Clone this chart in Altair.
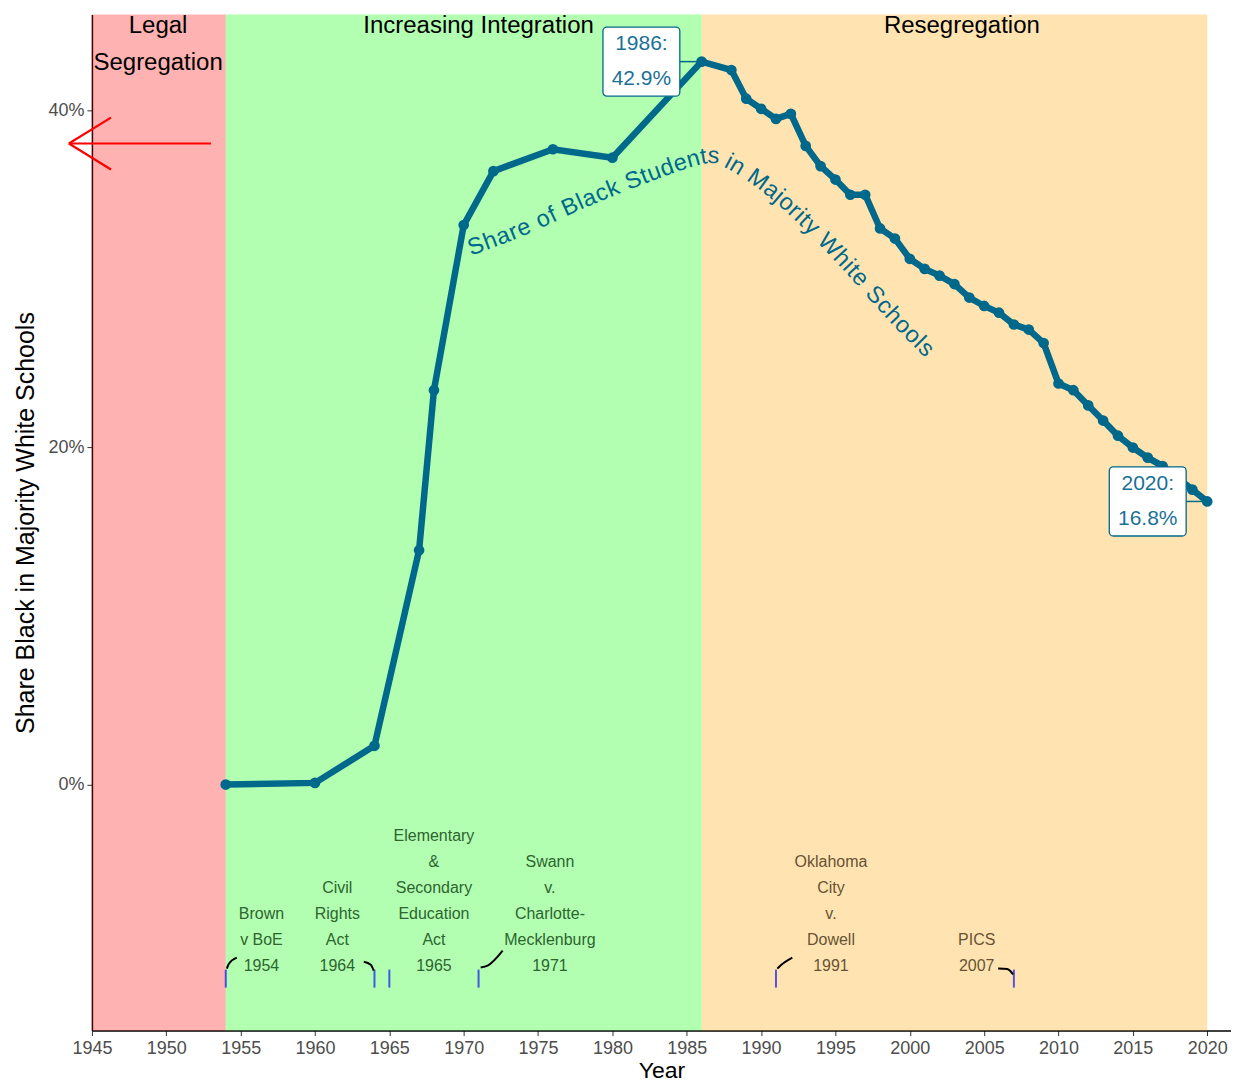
import math
import altair as alt
import pandas as pd

# ---------------- data ----------------
years = [1954, 1960, 1964, 1967, 1968, 1970, 1972, 1976, 1980, 1986, 1988, 1989, 1990,
         1991, 1992, 1993, 1994, 1995, 1996, 1997, 1998, 1999, 2000, 2001, 2002, 2003,
         2004, 2005, 2006, 2007, 2008, 2009, 2010, 2011, 2012, 2013, 2014, 2015, 2016,
         2017, 2018, 2019, 2020]
shares = [0.0, 0.1, 2.3, 13.9, 23.4, 33.2, 36.4, 37.7, 37.2, 42.9, 42.4, 40.7, 40.1,
          39.5, 39.8, 37.9, 36.7, 35.9, 35.0, 35.0, 33.0, 32.4, 31.2, 30.6, 30.2, 29.7,
          28.9, 28.4, 28.0, 27.3, 27.0, 26.2, 23.8, 23.4, 22.5, 21.6, 20.7, 20.0, 19.4,
          18.9, 18.2, 17.5, 16.8]

region_names = ["Legal\nSegregation", "Increasing Integration", "Resegregation"]
region_start = [1945, 1954, 1986]
region_end = [1954, 1986, 2020]
region_colors = ["#FF0000", "#00FF00", "#FFA500"]
region_label_x = [1949.45, 1971.0, 2003.5]

event_years = [1954, 1964, 1965, 1971, 1991, 2007]
event_labels = ["Brown\nv BoE\n1954", "Civil\nRights\nAct\n1964",
                "Elementary\n&\nSecondary\nEducation\nAct\n1965",
                "Swann\nv.\nCharlotte-\nMecklenburg\n1971",
                "Oklahoma\nCity\nv.\nDowell\n1991", "PICS\n2007"]
event_label_x = [1956.4, 1961.5, 1968.0, 1975.8, 1994.7, 2004.5]
event_label_color = ["#2E642E", "#2E642E", "#2E642E", "#2E642E", "#675334", "#675334"]

# connector curves (event label -> event tick), in data units
conn_id = [0, 0, 0, 1, 1, 1, 2, 2, 2, 3, 3, 3, 4, 4, 4]
conn_x = [1954.07, 1954.21, 1954.74, 1963.28, 1963.75, 1963.95, 1971.14, 1971.61, 1972.62,
          1991.09, 1991.29, 1992.10, 2005.94, 2006.55, 2006.95]
conn_y = [-10.92, -10.63, -10.27, -10.51, -10.69, -11.04, -10.86, -10.75, -9.86,
          -10.92, -10.75, -10.27, -10.92, -10.95, -11.27]

callout_years = [1986, 2020]
callout_values = [42.9, 16.8]
callout_box_x = [1981.95, 2016.0]

series_label = "Share of Black Students in Majority White Schools"
# text path (centre line of the curved series label), data units
path_x = [1970.33, 1973.96, 1978.19, 1983.50, 1986.46, 1987.73, 1990.96, 1995.06, 1998.89, 2001.37]
path_y = [31.77, 32.95, 34.73, 36.57, 37.40, 37.10, 35.21, 31.65, 27.79, 25.60]

# ---------------- layout constants ----------------
W, H = 1140, 1017
X0, X1 = 1945, 2021.6
Y0, Y1 = -14.6, 45.7
TEAL = "#00688B"
FONT = "Liberation Sans"
PX_PER_UNIT = H / (Y1 - Y0)

xscale = alt.Scale(domain=[X0, X1], nice=False, zero=False)
yscale = alt.Scale(domain=[Y0, Y1], nice=False, zero=False)
xaxis = alt.Axis(title="Year", values=list(range(1945, 2021, 5)), format="d",
                 labelFontSize=18, labelColor="#4D4D4D", tickColor="#333333", tickSize=5,
                 domainColor="black", domainWidth=1.5, grid=False, titleFontSize=23,
                 titleFontWeight="normal", titleColor="black", labelPadding=4, titlePadding=2,
                 labelFont=FONT, titleFont=FONT, labelFlush=False)
yaxis = alt.Axis(title="Share Black in Majority White Schools", values=[0, 20, 40],
                 labelExpr="datum.value + '%'", labelFontSize=18, labelColor="#4D4D4D",
                 tickColor="#333333", tickSize=5, domainColor="black", domainWidth=1.5,
                 grid=False, titleFontSize=25, titleFontWeight="normal", titleColor="black",
                 labelPadding=3, titlePadding=9, labelFont=FONT, titleFont=FONT)


def X(f):
    return alt.X(f, type="quantitative", scale=xscale, axis=xaxis)


def Y(f):
    return alt.Y(f, type="quantitative", scale=yscale, axis=yaxis)


# ---------------- curved label placement ----------------
def to_px(x, y):
    return ((x - X0) / (X1 - X0) * W, (Y1 - y) / (Y1 - Y0) * H)


def to_data(px, py):
    return (X0 + px / W * (X1 - X0), Y1 - py / H * (Y1 - Y0))


pts = [to_px(a, b) for a, b in zip(path_x, path_y)]
for _ in range(3):
    new = [pts[0]]
    for (ax, ay), (bx, by) in zip(pts[:-1], pts[1:]):
        new.append((0.75 * ax + 0.25 * bx, 0.75 * ay + 0.25 * by))
        new.append((0.25 * ax + 0.75 * bx, 0.25 * ay + 0.75 * by))
    new.append(pts[-1])
    pts = new
cum = [0.0]
for (ax, ay), (bx, by) in zip(pts[:-1], pts[1:]):
    cum.append(cum[-1] + math.hypot(bx - ax, by - ay))
L = cum[-1]


def at(s):
    s = max(0.0, min(L, s))
    for i in range(1, len(cum)):
        if cum[i] >= s:
            t = (s - cum[i - 1]) / max(cum[i] - cum[i - 1], 1e-9)
            ax, ay = pts[i - 1]
            bx, by = pts[i]
            return ax + t * (bx - ax), ay + t * (by - ay)
    return pts[-1]


adv = {"S": 667, "h": 556, "a": 556, "r": 333, "e": 556, " ": 278, "o": 556, "f": 278,
       "B": 667, "l": 222, "c": 500, "k": 500, "t": 278, "u": 556, "d": 556, "n": 556,
       "s": 500, "i": 222, "M": 833, "j": 222, "y": 500, "W": 944}
FS = 23.5
widths = [adv.get(ch, 556) / 1000 * FS for ch in series_label]
extra = max(0.0, (L - sum(widths)) / (len(series_label) - 1))
rows = []
s = 0.0
for ch, w in zip(series_label, widths):
    c = s + w / 2
    px, py = at(c)
    p1 = at(c - 4)
    p2 = at(c + 4)
    ang = math.degrees(math.atan2(p2[1] - p1[1], p2[0] - p1[0])) % 360
    dx, dy = to_data(px, py)
    rows.append({"ch": ch, "x": dx, "y": dy, "ang": ang})
    s += w + extra
chars_df = pd.DataFrame(rows)

# ---------------- layers ----------------
reg_df = pd.DataFrame({"name": region_names, "start": region_start, "end": region_end,
                       "color": region_colors, "lx": region_label_x})
bg = alt.Chart(reg_df).mark_rect(opacity=0.3).encode(
    x=X("start"), x2="end", color=alt.Color("color:N", scale=None))
reg_txt = alt.Chart(reg_df).mark_text(fontSize=24, font=FONT, color="black", baseline="top",
                                      align="center", lineBreak="\n", lineHeight=37).encode(
    x=X("lx"), y=alt.datum(45.75, type="quantitative", scale=yscale, axis=yaxis), text="name:N")

arrow_df = pd.DataFrame({"x": [1953.0, 1943.45, 1943.45], "x2": [1943.45, 1946.28, 1946.28],
                         "y": [38.04, 38.04, 38.04], "y2": [38.04, 39.58, 36.5]})
arrow = alt.Chart(arrow_df).mark_rule(color="red", strokeWidth=2.2).encode(
    x=X("x"), x2="x2", y=Y("y"), y2="y2")

# event labels: multi-line text, first line placed so the last line sits on the baseline
EV_LH = 26
EV_BASE = -11.04
ev_df = pd.DataFrame({"yr": event_years, "lab": event_labels, "lx": event_label_x,
                      "col": event_label_color, "y0": -10.98, "y1": -12.05})
ev_df["ly"] = [EV_BASE + (lab.count("\n")) * EV_LH / PX_PER_UNIT for lab in event_labels]
ev_ticks = alt.Chart(ev_df).mark_rule(color="blue", opacity=0.65, strokeWidth=2).encode(
    x=X("yr"), y=Y("y0"), y2="y1")
ev_txt = alt.Chart(ev_df).mark_text(fontSize=16, font=FONT, baseline="alphabetic", align="center",
                                    lineBreak="\n", lineHeight=EV_LH).encode(
    x=X("lx"), y=Y("ly"), text="lab:N", color=alt.Color("col:N", scale=None))

conn_df = pd.DataFrame({"id": conn_id, "x": conn_x, "y": conn_y})
conn = alt.Chart(conn_df).mark_line(color="black", strokeWidth=2, interpolate="monotone").encode(
    x=X("x"), y=Y("y"), detail="id:N")

data_df = pd.DataFrame({"year": years, "share": shares})
line = alt.Chart(data_df).mark_line(color=TEAL, strokeWidth=6.5).encode(x=X("year"), y=Y("share"))
points = alt.Chart(data_df).mark_circle(color=TEAL, size=115, opacity=1).encode(
    x=X("year"), y=Y("share"))

curve_txt = alt.Chart(chars_df).mark_text(fontSize=FS, font=FONT, color=TEAL, align="center",
                                          baseline="middle").encode(
    x=X("x"), y=Y("y"), text="ch:N", angle=alt.Angle("ang:Q", scale=None))

CO_LH = 35
co_df = pd.DataFrame({"yr": callout_years, "val": callout_values, "bx": callout_box_x})
co_df["lab"] = [f"{y}:\n{v:.1f}%" for y, v in zip(callout_years, callout_values)]
co_df["ly"] = co_df["val"] + (CO_LH / 2) / PX_PER_UNIT
HW, HH = 2.585, 2.05
co_seg = alt.Chart(co_df).transform_calculate(xe=f"datum.bx + {HW}").mark_rule(
    color=TEAL, strokeWidth=1.5).encode(x=X("xe:Q"), x2="yr", y=Y("val"))
co_box = alt.Chart(co_df).transform_calculate(
    xa=f"datum.bx - {HW}", xb=f"datum.bx + {HW}", ya=f"datum.val - {HH}", yb=f"datum.val + {HH}"
).mark_rect(fill="white", stroke=TEAL, strokeWidth=1.3, cornerRadius=4).encode(
    x=X("xa:Q"), x2="xb:Q", y=Y("ya:Q"), y2="yb:Q")
co_txt = alt.Chart(co_df).mark_text(fontSize=21, font=FONT, color="#1A7197", align="center",
                                    baseline="middle", lineBreak="\n", lineHeight=CO_LH).encode(
    x=X("bx"), y=Y("ly"), text="lab:N")

chart = alt.layer(bg, reg_txt, arrow, ev_ticks, conn, ev_txt, line, points, curve_txt,
                  co_seg, co_box, co_txt).properties(
    width=W, height=H, padding={"left": 5, "top": 5, "right": 0, "bottom": 0}
).configure_view(stroke=None)

chart.save("out.html", embed_options={"renderer": "svg", "actions": False})
